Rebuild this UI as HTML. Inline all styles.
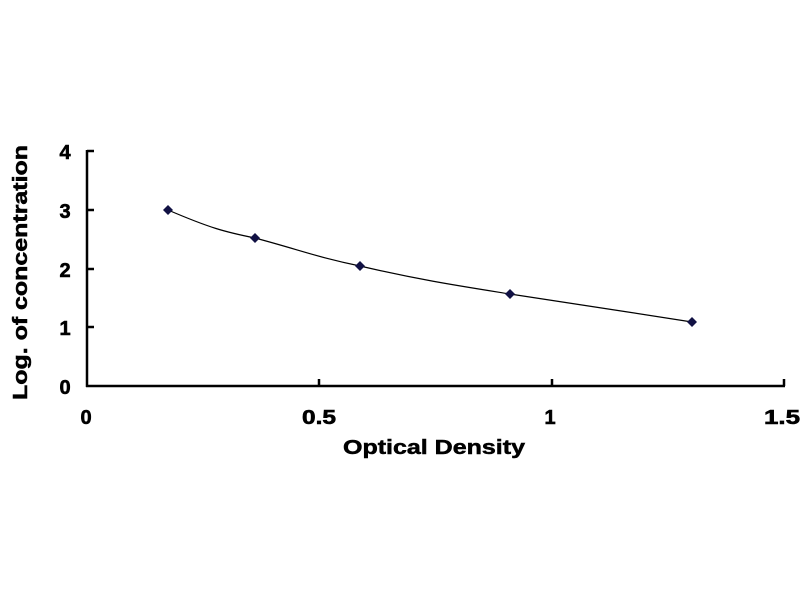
<!DOCTYPE html>
<html><head><style>body{margin:0;background:#fff}</style></head><body>
<svg width="800" height="600" xmlns="http://www.w3.org/2000/svg" font-family="Liberation Sans, sans-serif" font-weight="bold">
<rect width="800" height="600" fill="#fff"/>
<g stroke="#000" stroke-width="2.5" fill="none">
<line x1="87" y1="150" x2="87" y2="387"/>
<line x1="86" y1="386" x2="785" y2="386"/>
<line x1="87" y1="151" x2="94" y2="151"/>
<line x1="87" y1="210" x2="94" y2="210"/>
<line x1="87" y1="269" x2="94" y2="269"/>
<line x1="87" y1="327" x2="94" y2="327"/>
<line x1="319" y1="386" x2="319" y2="379"/>
<line x1="552" y1="386" x2="552" y2="379"/>
<line x1="784" y1="386" x2="784" y2="379"/>
</g>
<g font-size="20" text-anchor="middle" stroke="#000" stroke-width="0.6">
<text x="65" y="159">4</text><text x="65" y="218">3</text><text x="65" y="277">2</text><text x="65" y="335">1</text><text x="65" y="394">0</text>
<text x="86" y="424">0</text><text x="319" y="424" textLength="34" lengthAdjust="spacingAndGlyphs">0.5</text><text x="550" y="424">1</text><text x="782" y="424" textLength="36" lengthAdjust="spacingAndGlyphs">1.5</text>
</g>
<text x="343" y="454" font-size="20" textLength="182" lengthAdjust="spacingAndGlyphs" stroke="#000" stroke-width="0.5">Optical Density</text>
<text transform="translate(27,400) rotate(-90)" font-size="20" textLength="255" lengthAdjust="spacingAndGlyphs" stroke="#000" stroke-width="0.5">Log. of concentration</text>
<path d="M168,210 C210,228 225,232 255,238 C300,250 320,258 360,266 C420,280 460,286 510,294 C580,305 630,312 692,322" stroke="#000" stroke-width="1.2" fill="none"/>
<g fill="#111144">
<path d="M168,205 l5,5 l-5,5 l-5,-5z"/>
<path d="M255,233 l5,5 l-5,5 l-5,-5z"/>
<path d="M360,261 l5,5 l-5,5 l-5,-5z"/>
<path d="M510,289 l5,5 l-5,5 l-5,-5z"/>
<path d="M692,317 l5,5 l-5,5 l-5,-5z"/>
</g>
</svg>
</body></html>
